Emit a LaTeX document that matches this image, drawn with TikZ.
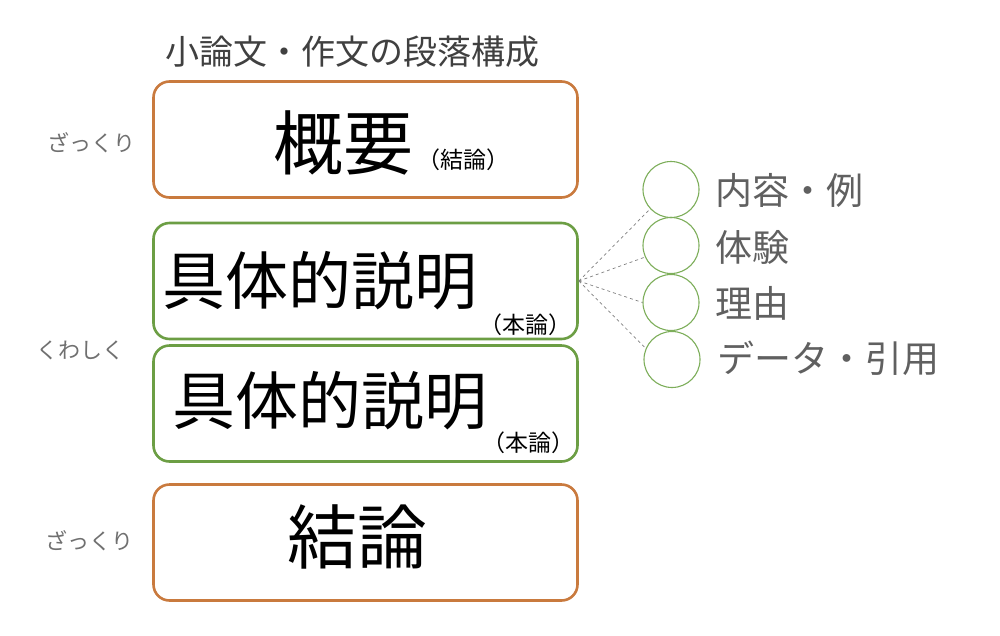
\documentclass[tikz,border=0pt]{standalone}
\usepackage{fontspec}
\setmainfont{Noto Sans CJK JP}
\begin{document}
\begin{tikzpicture}[x=1pt,y=-1pt,
  orangebox/.style={draw=boxorange,line width=2.6pt,rounded corners=16pt,minimum width=424pt,minimum height=116pt,inner sep=0pt},
  greenbox/.style={draw=boxgreen,line width=2.6pt,rounded corners=16pt,minimum width=424pt,minimum height=116pt,inner sep=0pt},
  item/.style={draw=circgreen,line width=1.1pt,circle,minimum size=56pt,inner sep=0pt},
  big/.style={inner sep=0pt,font=\fontsize{70}{70}\selectfont},
  mid/.style={inner sep=0pt,font=\fontsize{63}{63}\selectfont},
  small/.style={inner sep=0pt,font=\fontsize{23}{23}\selectfont},
  side/.style={inner sep=0pt,text=sidegray,font=\fontsize{22}{22}\selectfont},
  itemtext/.style={inner sep=0pt,anchor=west,text=itemgray,font=\fontsize{37}{37}\selectfont},
  link/.style={draw=linegray,dashed,line width=0.7pt}]
\definecolor{boxorange}{HTML}{C97A3E}
\definecolor{boxgreen}{HTML}{6C9E44}
\definecolor{circgreen}{HTML}{7DAE5A}
\definecolor{sidegray}{HTML}{707070}
\definecolor{itemgray}{HTML}{606060}
\definecolor{titlegray}{HTML}{404040}
\definecolor{linegray}{HTML}{808080}
\useasboundingbox (0,0) rectangle (1000,635);
\fill[white] (0,0) rectangle (1000,635);
% title
\node[inner sep=0pt,text=titlegray,font=\fontsize{34}{34}\selectfont] (title) at (352,52) {小論文・作文の段落構成};
% boxes
\node[orangebox] (box1) at (365.5,139.5) {};
\node[greenbox] (box2) at (365.5,281) {};
\node[greenbox] (box3) at (365.5,403.5) {};
\node[orangebox] (box4) at (365.5,542.5) {};
% box texts
\node[big] (t1) at (343,143) {概要};
\node[small] (s1) at (463,160) {（結論）};
\node[mid] (t2) at (320,281) {具体的説明};
\node[small] (s2) at (525,325) {（本論）};
\node[mid] (t3) at (330,401) {具体的説明};
\node[small] (s3) at (528,443) {（本論）};
\node[big] (t4) at (357,537) {結論};
% side labels
\node[side] (l1) at (91,143) {ざっくり};
\node[side] (l2) at (80,350) {くわしく};
\node[side] (l3) at (89,541) {ざっくり};
% circles
\node[item] (c1) at (671,189.5) {};
\node[item] (c2) at (671,245.5) {};
\node[item] (c3) at (671,302.5) {};
\node[item] (c4) at (672,359.5) {};
\node[itemtext] (i1) at (715,190) {内容・例};
\node[itemtext] (i2) at (715,247) {体験};
\node[itemtext] (i3) at (715,303) {理由};
\node[itemtext] (i4) at (717,358) {データ・引用};
% links
\coordinate (hub) at (box2.east);
\draw[link] (hub) -- (c1.223);
\draw[link] (hub) -- (c2.204);
\draw[link] (hub) -- (c3.180);
\draw[link] (hub) -- (c4.157);
\end{tikzpicture}
\end{document}
